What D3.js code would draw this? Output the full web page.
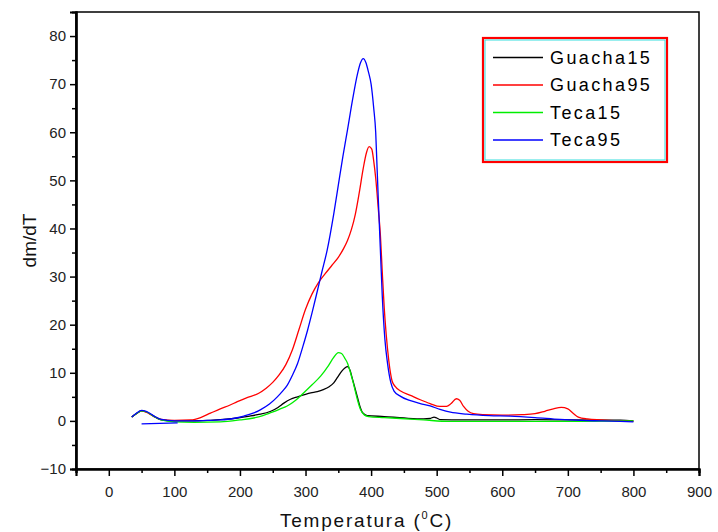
<!DOCTYPE html>
<html>
<head>
<meta charset="utf-8">
<script src="https://cdn.jsdelivr.net/npm/d3@7"></script>
<style>
  body { margin: 0; background: #fff; }
  svg { display: block; font-family: "Liberation Sans", Arial, sans-serif; }
  .tick text { fill: #222; font-size: 15px; }
</style>
</head>
<body>
<div id="chart"></div>
<script>
var width = 718, height = 532;
var margin = {left: 76, right: 19, top: 12, bottom: 63};

// series, [temperatura, dm/dT]
var guacha15 = [[35,0.8],[42,1.5],[50,2.1],[57,1.9],[68,1.0],[80,0.2],[100,0],[130,0],[155,0.1],[175,0.3],[196,0.6],
  [215,1],[227,1.3],[247,2],[258,2.8],[267,3.7],[277,4.5],[288,5],[300,5.5],[308,5.8],[318,6.1],[327,6.5],[336,7.1],
  [343,7.9],[349,9.1],[355,10.3],[360,11],[364,11.3],[368,10.5],[371,9],[375,7],[379,5],[383,3],[387,1.7],[394,1.1],
  [420,0.9],[450,0.6],[480,0.4],[490,0.5],[496,0.8],[500,0.6],[506,0.25],[540,0.2],[600,0.2],[650,0.25],[700,0.2],[780,0.15],[800,0]];

var guacha95 = [[35,0.8],[42,1.5],[50,2.1],[57,1.8],[68,1.0],[80,0.3],[100,0.1],[125,0.2],[140,0.7],[155,1.6],[170,2.5],
  [185,3.3],[196,4],[210,4.8],[228,5.7],[240,6.8],[250,8],[260,9.6],[270,11.7],[280,14.8],[290,19],[300,23.2],[310,26.4],
  [320,28.8],[330,30.6],[340,32.3],[350,34],[358,35.8],[364,37.5],[370,39.8],[376,43],[382,47.5],[388,52.5],[393,55.8],
  [397,57],[401,56.5],[404,54],[407,50.5],[411,44],[414,39],[417,31],[420,23.5],[423,18],[427,12.5],[432,8.3],[437,7.1],
  [445,6.2],[460,5.3],[475,4.4],[490,3.6],[505,3],[515,3],[522,3.6],[530,4.6],[535,4.3],[541,3],[548,2],[556,1.5],
  [570,1.3],[600,1.2],[630,1.3],[650,1.5],[665,2],[678,2.5],[690,2.8],[700,2.5],[708,1.6],[716,0.8],[730,0.4],[750,0.2],
  [780,0],[800,-0.1]];

var teca15 = [[35,0.8],[42,1.5],[50,2.1],[57,1.9],[68,1.0],[80,0.2],[100,-0.2],[130,-0.3],[170,-0.2],[200,0.2],[221,0.6],
  [235,1.1],[247,1.7],[260,2.4],[272,3.1],[285,4.3],[297,5.8],[310,7.5],[323,9.3],[335,11.5],[343,13.2],[350,14.2],
  [355,14],[360,13],[364,12],[369,9.8],[373,7.8],[378,5],[384,2.3],[390,1.2],[396,0.9],[420,0.7],[445,0.5],[480,0.2],
  [520,-0.1],[600,-0.1],[700,-0.1],[800,0]];

var teca95 = [[50,-0.6],[105,-0.4],null,
  [35,0.8],[42,1.6],[50,2.2],[57,2],[68,1.1],[80,0.3],[100,0],[120,0],[150,0.1],[170,0.2],[190,0.5],[206,1],[220,1.6],
  [231,2.3],[245,3.5],[257,5],[265,6.2],[272,7.4],[280,9.5],[288,12],[296,15.5],[303,18.8],[310,22.5],[318,27],[325,31],
  [333,35.5],[343,43],[350,49],[357,55],[364,60.5],[372,67],[379,72],[384,74.5],[388,75.3],[392,74.5],[396,72.5],
  [400,70],[404,65],[407,60],[409,53],[411,46],[414,36],[417,26],[421,17],[425,12],[430,8],[435,6.2],[445,5.1],
  [460,4.2],[475,3.6],[490,3.1],[505,2.4],[521,1.8],[546,1.4],[580,1.1],[612,1],[650,0.7],[688,0.3],[720,0.1],
  [750,0],[780,-0.1],[800,-0.2]];

var seriesNames = ["Guacha15", "Guacha95", "Teca15", "Teca95"];
var seriesColors = ["#000000", "#ff0000", "#00ee00", "#0000ff"];
var seriesData = [guacha15, guacha95, teca15, teca95];

var xTicks = [0, 100, 200, 300, 400, 500, 600, 700, 800, 900];
var yTicks = [-10, 0, 10, 20, 30, 40, 50, 60, 70, 80];

var svg = d3.select("#chart")
  .append("svg")
  .attr("width", width)
  .attr("height", height);

var x = d3.scaleLinear().domain([-50, 900]).range([margin.left, width - margin.right]);
var y = d3.scaleLinear().domain([-10, 85]).range([height - margin.bottom, margin.top]);

// frame
svg.append("rect")
  .attr("x", margin.left).attr("y", margin.top)
  .attr("width", width - margin.right - margin.left)
  .attr("height", height - margin.bottom - margin.top)
  .attr("fill", "none").attr("stroke", "#000").attr("stroke-width", 1.5);

// minor ticks
var xMinor = d3.range(-50, 901, 50).filter(function(v) { return v % 100 !== 0; });
var yMinor = d3.range(-5, 85, 10);

var xAxis = svg.append("g")
  .attr("transform", "translate(0," + (height - margin.bottom) + ")")
  .call(d3.axisBottom(x).tickValues(xTicks).tickSize(7).tickPadding(5).tickFormat(d3.format("d")));
svg.append("g")
  .attr("transform", "translate(0," + (height - margin.bottom) + ")")
  .call(d3.axisBottom(x).tickValues(xMinor).tickSize(4).tickFormat(""));

var yAxis = svg.append("g")
  .attr("transform", "translate(" + margin.left + ",0)")
  .call(d3.axisLeft(y).tickValues(yTicks).tickSize(6).tickPadding(4).tickFormat(d3.format("d")));
svg.append("g")
  .attr("transform", "translate(" + margin.left + ",0)")
  .call(d3.axisLeft(y).tickValues(yMinor).tickSize(4).tickFormat(""));

svg.selectAll(".domain").attr("stroke", "#000").attr("stroke-width", 2.2);
svg.selectAll(".tick line").attr("stroke", "#000").attr("stroke-width", 1.5);
xAxis.selectAll("text").attr("dy", "1.05em");

// curves
var line = d3.line()
  .defined(function(d) { return d !== null; })
  .x(function(d) { return x(d[0]); })
  .y(function(d) { return y(d[1]); })
  .curve(d3.curveMonotoneX);

seriesData.forEach(function(data, i) {
  svg.append("path")
    .datum(data)
    .attr("fill", "none")
    .attr("stroke", seriesColors[i])
    .attr("stroke-width", 1.3)
    .attr("d", line);
});

// axis titles
svg.append("text")
  .attr("transform", "translate(36," + y(37.5) + ") rotate(-90)")
  .attr("text-anchor", "middle")
  .attr("font-size", 19)
  .attr("fill", "#111")
  .text("dm/dT");

var xt = svg.append("text")
  .attr("x", x(393))
  .attr("y", 527)
  .attr("text-anchor", "middle")
  .attr("font-size", 19)
  .attr("letter-spacing", 1.8)
  .attr("fill", "#111");
xt.append("tspan").text("Temperatura (");
xt.append("tspan").attr("font-size", 11).attr("dy", -8).text("0");
xt.append("tspan").attr("dy", 8).text("C)");

// legend
var legend = svg.append("g");
legend.append("rect")
  .attr("x", 483).attr("y", 38).attr("width", 184).attr("height", 124)
  .attr("fill", "#fff").attr("stroke", "#ff0000").attr("stroke-width", 2.2);
legend.append("rect")
  .attr("x", 485).attr("y", 40).attr("width", 180).attr("height", 120)
  .attr("fill", "none").attr("stroke", "#33dddd").attr("stroke-width", 1);

var rows = legend.selectAll("g.row")
  .data(seriesNames)
  .enter().append("g")
  .attr("class", "row")
  .attr("transform", function(d, i) { return "translate(0," + (57.5 + i * 27.5) + ")"; });

rows.append("line")
  .attr("x1", 493).attr("x2", 543)
  .attr("stroke", function(d, i) { return seriesColors[i]; })
  .attr("stroke-width", 1.3);

rows.append("text")
  .attr("x", 550).attr("dy", "0.36em")
  .attr("font-size", 18)
  .attr("letter-spacing", 2.4)
  .attr("fill", "#000")
  .text(function(d) { return d; });
</script>
</body>
</html>
